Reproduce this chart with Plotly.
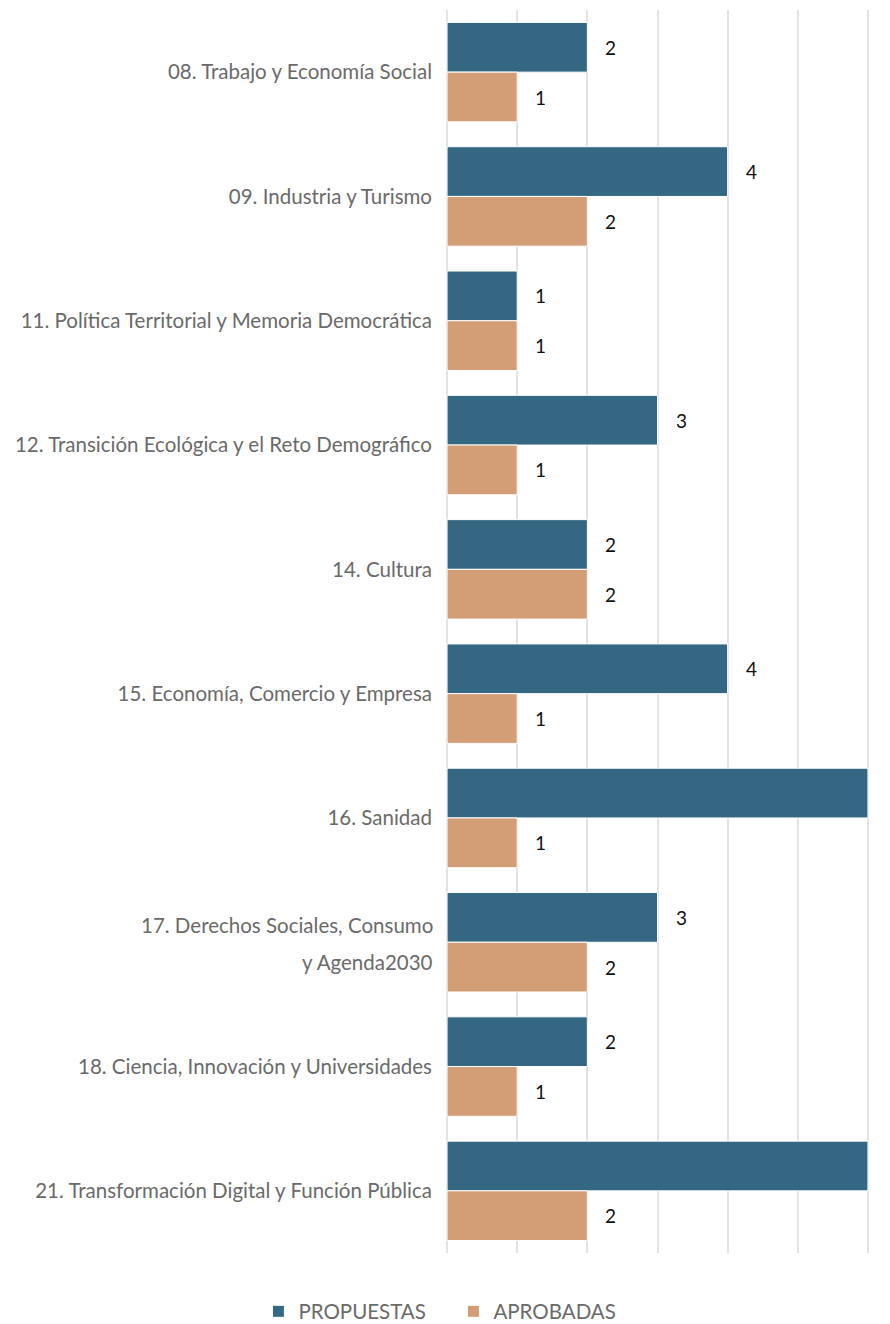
import plotly.graph_objects as go

categories = [
    "08. Trabajo y Economía Social",
    "09. Industria y Turismo",
    "11. Política Territorial y Memoria Democrática",
    "12. Transición Ecológica y el Reto Demográfico",
    "14. Cultura",
    "15. Economía, Comercio y Empresa",
    "16. Sanidad",
    "17. Derechos Sociales, Consumo<br>y Agenda2030",
    "18. Ciencia, Innovación y Universidades",
    "21. Transformación Digital y Función Pública",
]
propuestas = [2, 4, 1, 3, 2, 4, 6, 3, 2, 6]
aprobadas = [1, 2, 1, 1, 2, 1, 1, 2, 1, 2]
series_names = ["PROPUESTAS", "APROBADAS"]
colors = ["#346882", "#D39D76"]

FONT = "Lato, sans-serif"
LABEL_COLOR = "#6a6a6a"

fig = go.Figure()
for name, vals, col in zip(series_names, [propuestas, aprobadas], colors):
    fig.add_trace(go.Bar(
        y=categories, x=vals, name=name, orientation="h",
        marker=dict(color=col, line=dict(color="white", width=1)),
        cliponaxis=False,
    ))

annotations = []
for i in range(len(categories)):
    for off, vals in [(-0.2, propuestas), (0.2, aprobadas)]:
        annotations.append(dict(
            x=vals[i], y=i + off, xref="x", yref="y", text=str(vals[i]),
            showarrow=False, xanchor="left", yanchor="middle", xshift=16,
            font=dict(family=FONT, size=19, color="#111111"),
        ))

# multi-line category labels drawn with wider line spacing
ticktext = []
for i, c in enumerate(categories):
    if "<br>" in c:
        ticktext.append("")
        lines = c.split("<br>")
        shifts = [17, -20]
        for line, ys in zip(lines, shifts):
            annotations.append(dict(
                x=0, y=i, xref="x", yref="y", text=line, showarrow=False,
                xanchor="right", yanchor="middle", xshift=-12, yshift=ys,
                font=dict(family=FONT, size=20.5, color=LABEL_COLOR),
            ))
    else:
        ticktext.append(c)

fig.update_layout(
    width=882, height=1316,
    margin=dict(l=438, r=21, t=2, b=71, autoexpand=False),
    paper_bgcolor="white", plot_bgcolor="white",
    barmode="group", bargap=0.2, bargroupgap=0,
    showlegend=True,
    legend=dict(orientation="h", xref="container", x=0.505, xanchor="center",
                yref="container", y=0.0095, yanchor="middle",
                entrywidth=150, entrywidthmode="pixels",
                font=dict(family=FONT, size=20.5, color=LABEL_COLOR),
                traceorder="normal"),
    annotations=annotations,
)
fig.update_xaxes(range=[-0.015, 6.015], tickmode="array",
                 tickvals=[0, 1, 2, 3, 4, 5, 6], showgrid=True,
                 gridcolor="#e3e3e3", gridwidth=2, showticklabels=False,
                 zeroline=False, ticks="")
fig.update_yaxes(autorange="reversed", showgrid=False, ticks="",
                 tickmode="array", tickvals=categories, ticktext=ticktext,
                 ticklabelstandoff=13,
                 tickfont=dict(family=FONT, size=20.5, color=LABEL_COLOR))

fig.write_html("out.html")
